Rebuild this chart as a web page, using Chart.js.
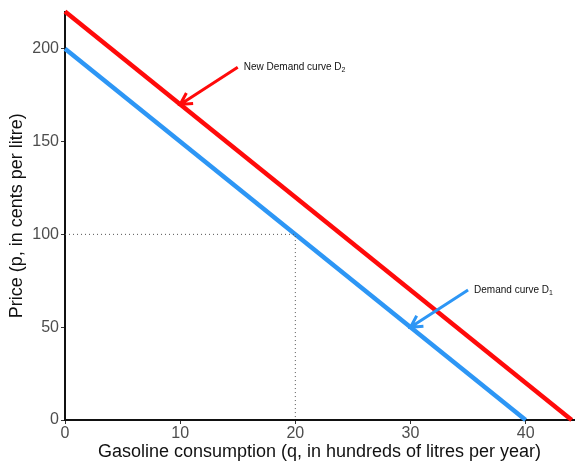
<!DOCTYPE html>
<html>
<head>
<meta charset="utf-8">
<script src="https://cdn.jsdelivr.net/npm/chart.js@4"></script>
<style>
  html, body { margin: 0; padding: 0; background: #fff; }
  #wrap { width: 577px; height: 464px; }
</style>
</head>
<body>
<div id="wrap"><canvas id="chart" width="577" height="464"></canvas></div>
<script>
(function () {
    'use strict';

    // demand curves: quantity (hundreds of litres) -> price (cents)
    var d1Quantity = [0, 40];
    var d1Price = [200, 0];
    var d2Quantity = [0, 44];
    var d2Price = [220, 0];

    // reference guide at q = 20, p = 100
    var guideQuantity = [0, 20, 20];
    var guidePrice = [100, 100, 0];

    var xTicks = [0, 10, 20, 30, 40];
    var yTicks = [0, 50, 100, 150, 200];

    // annotation arrows: [fromQ, fromP, toQ, toP]
    var arrowD2 = [15, 190, 10, 170];
    var arrowD1 = [35, 70, 30, 50];
    var labelD2 = ['New Demand curve D', '2'];
    var labelD1 = ['Demand curve D', '1'];

    var RED = '#ff0a0a';
    var BLUE = '#2d96f5';

    function toPoints(xs, ys) {
        return xs.map(function (x, i) { return { x: x, y: ys[i] }; });
    }

    function drawArrow(ctx, xs, ys, a, color) {
        var x1 = xs.getPixelForValue(a[0]), y1 = ys.getPixelForValue(a[1]);
        var x2 = xs.getPixelForValue(a[2]), y2 = ys.getPixelForValue(a[3]);
        var ang = Math.atan2(y2 - y1, x2 - x1);
        var head = 13, spread = 0.5;
        ctx.save();
        ctx.strokeStyle = color;
        ctx.lineWidth = 3;
        ctx.beginPath();
        ctx.moveTo(x1, y1);
        ctx.lineTo(x2, y2);
        ctx.moveTo(x2 - head * Math.cos(ang - spread), y2 - head * Math.sin(ang - spread));
        ctx.lineTo(x2, y2);
        ctx.lineTo(x2 - head * Math.cos(ang + spread), y2 - head * Math.sin(ang + spread));
        ctx.stroke();
        ctx.restore();
        return { x: x1, y: y1 };
    }

    function drawLabel(ctx, pos, parts) {
        ctx.save();
        ctx.fillStyle = '#111';
        ctx.textBaseline = 'middle';
        ctx.textAlign = 'left';
        ctx.font = '10px "Liberation Sans", Arial, sans-serif';
        var x = pos.x + 6;
        ctx.fillText(parts[0], x, pos.y);
        x += ctx.measureText(parts[0]).width;
        ctx.font = '7px "Liberation Sans", Arial, sans-serif';
        ctx.fillText(parts[1], x, pos.y + 3);
        ctx.restore();
    }

    var annotations = {
        id: 'annotations',
        afterDatasetsDraw: function (chart) {
            var ctx = chart.ctx, xs = chart.scales.x, ys = chart.scales.y;
            var p2 = drawArrow(ctx, xs, ys, arrowD2, RED);
            drawLabel(ctx, p2, labelD2);
            var p1 = drawArrow(ctx, xs, ys, arrowD1, BLUE);
            drawLabel(ctx, p1, labelD1);
        }
    };

    var tickFont = { family: '"Liberation Sans", Arial, sans-serif', size: 16 };
    var titleFont = { family: '"Liberation Sans", Arial, sans-serif', size: 18 };

    new Chart(document.getElementById('chart'), {
        type: 'scatter',
        data: {
            datasets: [
                {
                    label: 'guide',
                    data: toPoints(guideQuantity, guidePrice),
                    showLine: true,
                    borderColor: '#555',
                    borderWidth: 1,
                    borderDash: [1, 3],
                    pointRadius: 0
                },
                {
                    label: 'Demand curve D1',
                    data: toPoints(d1Quantity, d1Price),
                    showLine: true,
                    borderColor: BLUE,
                    borderWidth: 4.5,
                    pointRadius: 0
                },
                {
                    label: 'New Demand curve D2',
                    data: toPoints(d2Quantity, d2Price),
                    showLine: true,
                    borderColor: RED,
                    borderWidth: 4.5,
                    pointRadius: 0
                }
            ]
        },
        options: {
            responsive: false,
            devicePixelRatio: 1,
            animation: false,
            clip: false,
            layout: { padding: { top: 8, right: 3, left: 0, bottom: 0 } },
            plugins: {
                legend: { display: false },
                tooltip: { enabled: false }
            },
            scales: {
                x: {
                    type: 'linear',
                    min: 0,
                    max: 44.2,
                    afterBuildTicks: function (s) {
                        s.ticks = xTicks.map(function (v) { return { value: v }; });
                    },
                    afterFit: function (s) { s.height = 44; },
                    border: { color: '#111', width: 2 },
                    grid: { drawOnChartArea: false, drawTicks: true, tickLength: 4, color: '#333' },
                    ticks: { color: '#4d4d4d', font: tickFont, padding: 0, maxRotation: 0 },
                    title: {
                        display: true,
                        text: 'Gasoline consumption (q, in hundreds of litres per year)',
                        color: '#111',
                        font: titleFont,
                        padding: { top: 0, bottom: 1 }
                    }
                },
                y: {
                    type: 'linear',
                    min: 0,
                    max: 220,
                    afterBuildTicks: function (s) {
                        s.ticks = yTicks.map(function (v) { return { value: v }; });
                    },
                    afterFit: function (s) { s.width = 65; },
                    border: { color: '#111', width: 2 },
                    grid: { drawOnChartArea: false, drawTicks: true, tickLength: 4, color: '#333' },
                    ticks: { color: '#4d4d4d', font: tickFont, padding: 2 },
                    title: {
                        display: true,
                        text: 'Price (p, in cents per litre)',
                        color: '#111',
                        font: titleFont,
                        padding: { top: 6, bottom: 0 }
                    }
                }
            }
        },
        plugins: [annotations]
    });
})();
</script>
</body>
</html>
